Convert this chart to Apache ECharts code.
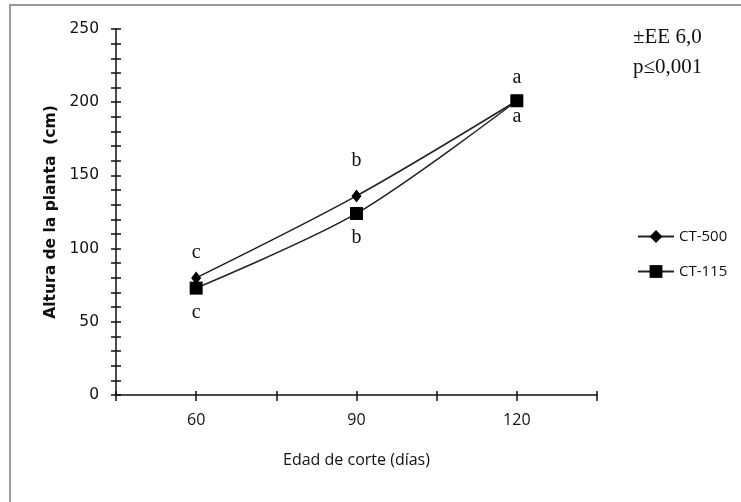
<!DOCTYPE html>
<html>
<head>
<meta charset="utf-8">
<script src="https://cdn.jsdelivr.net/npm/echarts@6/dist/echarts.min.js"></script>
<style>
html,body{margin:0;padding:0;background:#fff;}
#chart{width:741px;height:502px;}
</style>
</head>
<body>
<div id="chart"></div>
<script>
// ---- data ----
var days = [60, 90, 120];
var ct500 = [80, 136, 201];
var ct115 = [73, 124, 201];
var letters500 = ['c', 'b', 'a'];
var letters115 = ['c', 'b', 'a'];
var xTickLabels = [60, 90, 120];
var yTickLabels = [0, 50, 100, 150, 200, 250];
var seriesNames = ['CT-500', 'CT-115'];
var notes = ['±EE 6,0', 'p≤0,001'];

// ---- style (label distances, not data) ----
var dist500 = [9, 19, 6];
var dist115 = [8, 8, 0];

function build(vals, letters, dists, pos) {
  return vals.map(function (v, i) {
    return {
      value: [days[i], v],
      label: { show: true, position: pos, distance: dists[i], formatter: letters[i] }
    };
  });
}

var chart = echarts.init(document.getElementById('chart'), null, { renderer: 'canvas' });
var axisColor = '#111';
var labelFont = { fontFamily: 'Liberation Serif', fontSize: 20, color: '#111' };

var option = {
  backgroundColor: '#fff',
  animation: false,
  grid: { left: 116, top: 29, width: 481, height: 366, containLabel: false },
  xAxis: [{
    type: 'value', min: 45, max: 135, interval: 15,
    axisLine: { show: true, lineStyle: { color: axisColor, width: 1.5 } },
    axisTick: { show: true, length: 6, lineStyle: { color: axisColor, width: 1.5 } },
    splitLine: { show: false },
    axisLabel: {
      margin: 17, fontFamily: 'Open Sans', fontSize: 16, color: '#111',
      formatter: function (v) { return xTickLabels.indexOf(v) >= 0 ? String(v) : ''; }
    },
    name: 'Edad de corte (días)', nameLocation: 'middle', nameGap: 57,
    nameTextStyle: { fontFamily: 'Open Sans', fontSize: 16, color: '#111' }
  }, {
    type: 'value', min: 45, max: 135, interval: 15, position: 'bottom', offset: 0,
    axisLine: { show: false },
    axisTick: { show: true, inside: true, length: 4, lineStyle: { color: axisColor, width: 1.5 } },
    axisLabel: { show: false }, splitLine: { show: false }
  }],
  yAxis: [{
    type: 'value', min: 0, max: 250, interval: 10,
    axisLine: { show: true, lineStyle: { color: axisColor, width: 1.5 } },
    axisTick: { show: true, length: 5, lineStyle: { color: axisColor, width: 1.5 } },
    splitLine: { show: false },
    axisLabel: {
      margin: 17, fontFamily: 'DejaVu Sans', fontSize: 15.5, color: '#111',
      formatter: function (v) { return yTickLabels.indexOf(v) >= 0 ? String(v) : ''; }
    },
    name: 'Altura de la planta  (cm)', nameLocation: 'middle', nameGap: 55, nameRotate: 90,
    nameTextStyle: { fontFamily: 'DejaVu Sans', fontWeight: 'bold', fontSize: 15.5, color: '#111' }
  }, {
    type: 'value', min: 0, max: 250, interval: 10, position: 'left', offset: 0,
    axisLine: { show: false },
    axisTick: { show: true, inside: true, length: 5, lineStyle: { color: axisColor, width: 1.5 } },
    axisLabel: { show: false }, splitLine: { show: false }
  }],
  legend: {
    orient: 'vertical', left: 632, top: 224,
    itemWidth: 36, itemHeight: 16, itemGap: 20,
    textStyle: { fontFamily: 'Open Sans', fontSize: 15, color: '#111' },
    data: [seriesNames[0], seriesNames[1]]
  },
  series: [{
    name: seriesNames[0], type: 'line', smooth: 0.3,
    symbol: 'diamond', symbolSize: [10, 13],
    lineStyle: { color: '#222', width: 1.5 },
    itemStyle: { color: '#000' },
    label: labelFont,
    data: build(ct500, letters500, dist500, 'top')
  }, {
    name: seriesNames[1], type: 'line', smooth: 0.3,
    symbol: 'rect', symbolSize: 13,
    lineStyle: { color: '#222', width: 1.5 },
    itemStyle: { color: '#000' },
    label: labelFont,
    data: build(ct115, letters115, dist115, 'bottom')
  }],
  graphic: [
    { type: 'rect', shape: { x: 10, y: 5, width: 800, height: 600 },
      style: { fill: 'none', stroke: '#999', lineWidth: 2 }, silent: true },
    { type: 'text', left: 633, top: 27,
      style: { text: notes[0], fontFamily: 'Liberation Serif', fontSize: 21, fill: '#111' } },
    { type: 'text', left: 633, top: 57,
      style: { text: notes[1], fontFamily: 'Liberation Serif', fontSize: 21, fill: '#111' } }
  ]
};
chart.setOption(option);
</script>
</body>
</html>
